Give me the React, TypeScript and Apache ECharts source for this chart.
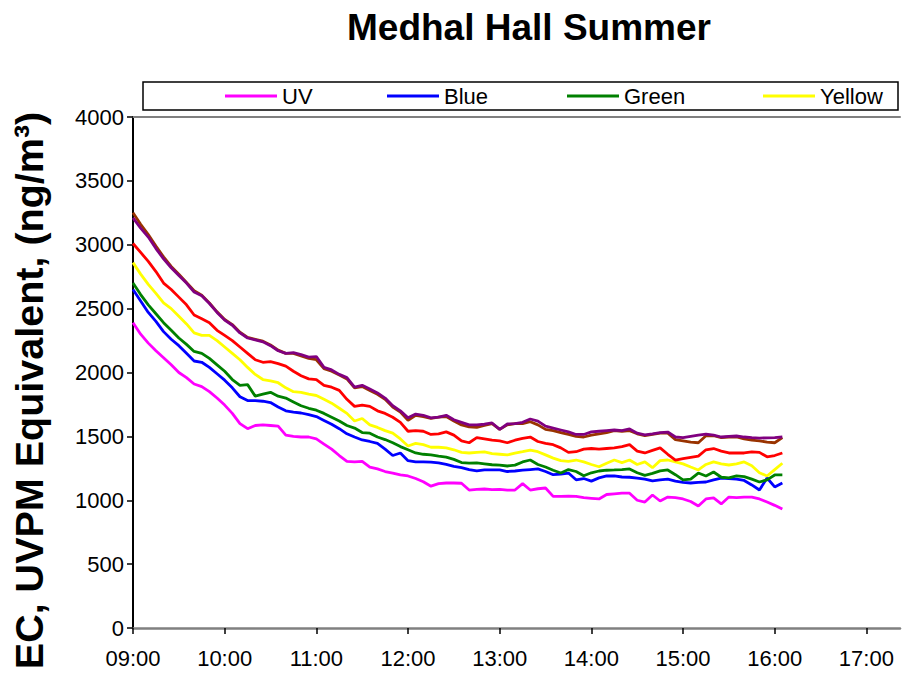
import React, { useEffect, useRef } from "react";
import * as echarts from "echarts";

// Sample times (every 5 minutes)
const times = [
  "09:00", "09:05", "09:10", "09:15", "09:20", "09:25", "09:30", "09:35", "09:40", "09:45", "09:50", "09:55",
  "10:00", "10:05", "10:10", "10:15", "10:20", "10:25", "10:30", "10:35", "10:40", "10:45", "10:50", "10:55",
  "11:00", "11:05", "11:10", "11:15", "11:20", "11:25", "11:30", "11:35", "11:40", "11:45", "11:50", "11:55",
  "12:00", "12:05", "12:10", "12:15", "12:20", "12:25", "12:30", "12:35", "12:40", "12:45", "12:50", "12:55",
  "13:00", "13:05", "13:10", "13:15", "13:20", "13:25", "13:30", "13:35", "13:40", "13:45", "13:50", "13:55",
  "14:00", "14:05", "14:10", "14:15", "14:20", "14:25", "14:30", "14:35", "14:40", "14:45", "14:50", "14:55",
  "15:00", "15:05", "15:10", "15:15", "15:20", "15:25", "15:30", "15:35", "15:40", "15:45", "15:50", "15:55",
  "16:00", "16:05",
];

// EC / UVPM equivalent, ng/m3
const uv = [
  2390, 2300, 2230, 2170, 2115, 2060, 2000, 1960, 1910, 1890, 1850, 1800,
  1745, 1680, 1600, 1560, 1585, 1590, 1585, 1580, 1510, 1500, 1495, 1495,
  1480, 1440, 1400, 1350, 1305, 1300, 1305, 1260, 1245, 1225, 1213, 1198,
  1190, 1170, 1145, 1110, 1130, 1135, 1135, 1133, 1080, 1085, 1088, 1083,
  1085, 1080, 1080, 1130, 1080, 1090, 1096, 1030, 1030, 1033, 1030, 1020,
  1015, 1010, 1045, 1050, 1055, 1055, 1000, 986, 1041, 994, 1025, 1020,
  1010, 990, 955, 1010, 1018, 971, 1025, 1020, 1025, 1025, 1010, 986,
  960, 931,
];
const blue = [
  2650, 2560, 2470, 2400, 2320, 2260, 2210, 2150, 2090, 2080, 2040, 1990,
  1940, 1880, 1810, 1780, 1780, 1775, 1765, 1730, 1700, 1690, 1683, 1670,
  1655, 1625, 1595, 1560, 1520, 1495, 1472, 1460, 1445, 1400, 1350, 1370,
  1310, 1300, 1300, 1298, 1292, 1280, 1265, 1255, 1240, 1230, 1237, 1237,
  1237, 1225, 1229, 1235, 1240, 1245, 1225, 1200, 1205, 1213, 1160, 1170,
  1150, 1175, 1190, 1190, 1182, 1180, 1174, 1165, 1151, 1160, 1166, 1150,
  1140, 1135, 1140, 1143, 1160, 1174, 1170, 1166, 1155, 1120, 1080, 1174,
  1104, 1135,
];
const green = [
  2700, 2610, 2530, 2460, 2390, 2330, 2270, 2220, 2165, 2150, 2110, 2060,
  2010, 1945, 1900, 1905, 1815, 1830, 1845, 1815, 1800, 1770, 1740, 1720,
  1705, 1680, 1650, 1620, 1585, 1565, 1530, 1525, 1495, 1475, 1450, 1420,
  1395, 1370, 1360, 1355, 1345, 1338, 1320, 1295, 1290, 1292, 1285, 1278,
  1275, 1268, 1275, 1300, 1315, 1280, 1260, 1235, 1213, 1240, 1225, 1192,
  1215, 1229, 1235, 1237, 1240, 1245, 1215, 1195, 1210, 1230, 1237, 1200,
  1160, 1165, 1213, 1190, 1221, 1180, 1175, 1190, 1185, 1165, 1143, 1160,
  1198, 1198,
];
const yellow = [
  2860, 2770, 2690, 2620, 2545, 2500, 2440, 2380, 2310, 2290, 2290, 2250,
  2200, 2150, 2100, 2040, 1985, 1945, 1935, 1920, 1880, 1850, 1845, 1830,
  1820, 1790, 1760, 1720, 1680, 1620, 1640, 1590, 1570, 1545, 1525, 1480,
  1425, 1445, 1435, 1415, 1415, 1410, 1395, 1375, 1370, 1375, 1378, 1365,
  1360, 1355, 1368, 1380, 1393, 1380, 1355, 1330, 1310, 1305, 1315, 1300,
  1280, 1262, 1290, 1315, 1295, 1315, 1280, 1300, 1255, 1310, 1315, 1300,
  1285, 1260, 1237, 1280, 1300, 1285, 1276, 1285, 1300, 1270, 1215, 1190,
  1240, 1290,
];
const red = [
  3010, 2940, 2870, 2790, 2700, 2650, 2590, 2530, 2450, 2420, 2390, 2330,
  2290, 2250, 2200, 2150, 2100, 2080, 2085, 2070, 2050, 2010, 1975, 1950,
  1945, 1900, 1885, 1860, 1790, 1735, 1745, 1735, 1700, 1680, 1650, 1610,
  1540, 1545, 1540, 1515, 1520, 1535, 1510, 1465, 1450, 1490, 1480, 1470,
  1465, 1450, 1470, 1485, 1495, 1460, 1445, 1435, 1410, 1375, 1380, 1400,
  1405, 1400, 1405, 1410, 1420, 1435, 1385, 1370, 1390, 1410, 1360, 1315,
  1325, 1335, 1345, 1395, 1405, 1385, 1370, 1370, 1370, 1378, 1375, 1340,
  1350, 1370,
];
const brown = [
  3250, 3160, 3080, 2990, 2905, 2830, 2770, 2705, 2640, 2605, 2545, 2475,
  2415, 2375, 2315, 2275, 2260, 2245, 2215, 2175, 2150, 2150, 2130, 2110,
  2100, 2030, 2010, 1980, 1950, 1880, 1890, 1860, 1830, 1790, 1730, 1690,
  1625, 1665, 1655, 1640, 1650, 1655, 1620, 1590, 1575, 1570, 1585, 1600,
  1555, 1590, 1600, 1600, 1615, 1590, 1555, 1545, 1530, 1515, 1500, 1495,
  1510, 1520, 1530, 1545, 1540, 1545, 1520, 1505, 1515, 1525, 1525, 1475,
  1465, 1455, 1450, 1505, 1505, 1490, 1495, 1495, 1480, 1470, 1465, 1455,
  1450, 1490,
];
const purple = [
  3210, 3130, 3060, 2970, 2890, 2820, 2760, 2700, 2630, 2600, 2540, 2470,
  2410, 2370, 2310, 2270, 2255, 2240, 2210, 2170, 2150, 2155, 2140, 2120,
  2125, 2040, 2020, 1985, 1960, 1885, 1900, 1870, 1840, 1800, 1740, 1700,
  1645, 1675, 1665, 1645, 1650, 1665, 1630, 1610, 1590, 1590, 1595, 1605,
  1555, 1597, 1600, 1610, 1636, 1620, 1580, 1565, 1550, 1535, 1515, 1515,
  1535, 1540, 1545, 1550, 1545, 1558, 1525, 1512, 1520, 1530, 1534, 1495,
  1490, 1500, 1510, 1518, 1510, 1495, 1500, 1503, 1495, 1490, 1487, 1488,
  1490, 1495,
];

const xTickLabels = ["09:00", "10:00", "11:00", "12:00", "13:00", "14:00", "15:00", "16:00", "17:00"];
const yTicks = [0, 500, 1000, 1500, 2000, 2500, 3000, 3500, 4000];

const seriesNames = ["UV", "Blue", "Green", "Yellow", "Red", "Brown", "Purple"];
const seriesColors = ["#FF00FF", "#0000FF", "#008000", "#FFFF00", "#FF0000", "#993300", "#800080"];
const seriesValues = [uv, blue, green, yellow, red, brown, purple];
const legendNames = ["UV", "Blue", "Green", "Yellow"];

const FONT = "'Liberation Sans', Arial, Helvetica, sans-serif";

const toMinutes = (s: string) => {
  const [h, m] = s.split(":").map(Number);
  return h * 60 + m;
};
const toLabel = (v: number) => {
  const h = Math.floor(v / 60);
  const m = Math.round(v - h * 60);
  return `${String(h).padStart(2, "0")}:${String(m).padStart(2, "0")}`;
};

export default function App() {
  const ref = useRef<HTMLDivElement>(null);

  useEffect(() => {
    if (!ref.current) return;
    const chart = echarts.init(ref.current, null, { renderer: "svg" });
    const xTickValues = xTickLabels.map(toMinutes);
    const xMin = xTickValues[0];
    const xMax = 1042;
    const legendLeft = [220, 382, 562, 758];

    chart.setOption({
      animation: false,
      backgroundColor: "#ffffff",
      title: {
        text: "Medhal Hall Summer",
        left: 342,
        top: 4,
        textStyle: { fontFamily: FONT, fontSize: 37, fontWeight: "bold", color: "#000" },
      },
      legend: legendNames.map((n, i) => ({
        data: [n],
        left: legendLeft[i],
        top: 80,
        icon: "rect",
        itemWidth: 52,
        itemHeight: 3,
        textStyle: { fontFamily: FONT, fontSize: 22, color: "#000" },
        selectedMode: false,
      })),
      graphic: [
        {
          type: "rect",
          shape: { x: 143, y: 82, width: 755, height: 28 },
          style: { fill: "none", stroke: "#000", lineWidth: 1.5 },
          z: 10,
        },
      ],
      grid: { left: 133, top: 117, right: 4, bottom: 45, containLabel: false },
      xAxis: [
        {
          type: "value",
          min: xMin,
          max: xMax,
          interval: 60,
          axisLine: { show: true, lineStyle: { color: "#808080", width: 2.5 } },
          axisTick: {
            show: true,
            customValues: xTickValues,
            length: 6,
            lineStyle: { color: "#000", width: 1.5 },
          },
          axisLabel: {
            customValues: xTickValues,
            formatter: (v: number) => toLabel(v),
            fontFamily: FONT,
            fontSize: 22,
            color: "#000",
            margin: 19,
          },
          splitLine: { show: false },
        },
        {
          type: "value",
          position: "top",
          min: xMin,
          max: xMax,
          axisLine: { show: true, onZero: false, lineStyle: { color: "#808080", width: 2 } },
          axisTick: { show: false },
          axisLabel: { show: false },
          splitLine: { show: false },
        },
      ],
      yAxis: {
        type: "value",
        min: yTicks[0],
        max: yTicks[yTicks.length - 1],
        interval: 500,
        name: "EC, UVPM Equivalent, (ng/m³)",
        nameLocation: "middle",
        nameGap: 84,
        nameTextStyle: {
          fontFamily: FONT,
          fontSize: 39.5,
          fontWeight: "bold",
          color: "#000",
          padding: [0, 36, 0, 0],
        },
        axisLine: { show: true, lineStyle: { color: "#000", width: 2 } },
        axisTick: { show: true, length: 6, lineStyle: { color: "#000", width: 1.5 } },
        axisLabel: {
          fontFamily: FONT,
          fontSize: 22,
          color: "#000",
          margin: 9,
          formatter: (v: number) => String(v),
        },
        splitLine: { show: false },
      },
      series: seriesNames.map((name, i) => ({
        name,
        type: "line",
        xAxisIndex: 0,
        data: times.map((t, j) => [toMinutes(t), seriesValues[i][j]]),
        showSymbol: false,
        symbol: "none",
        lineStyle: { color: seriesColors[i], width: 2.8 },
        itemStyle: { color: seriesColors[i] },
        z: 2 + i,
      })),
    });

    return () => chart.dispose();
  }, []);

  return (
    <div
      ref={ref}
      style={{ position: "absolute", left: 0, top: 0, width: 904, height: 673 }}
    />
  );
}
